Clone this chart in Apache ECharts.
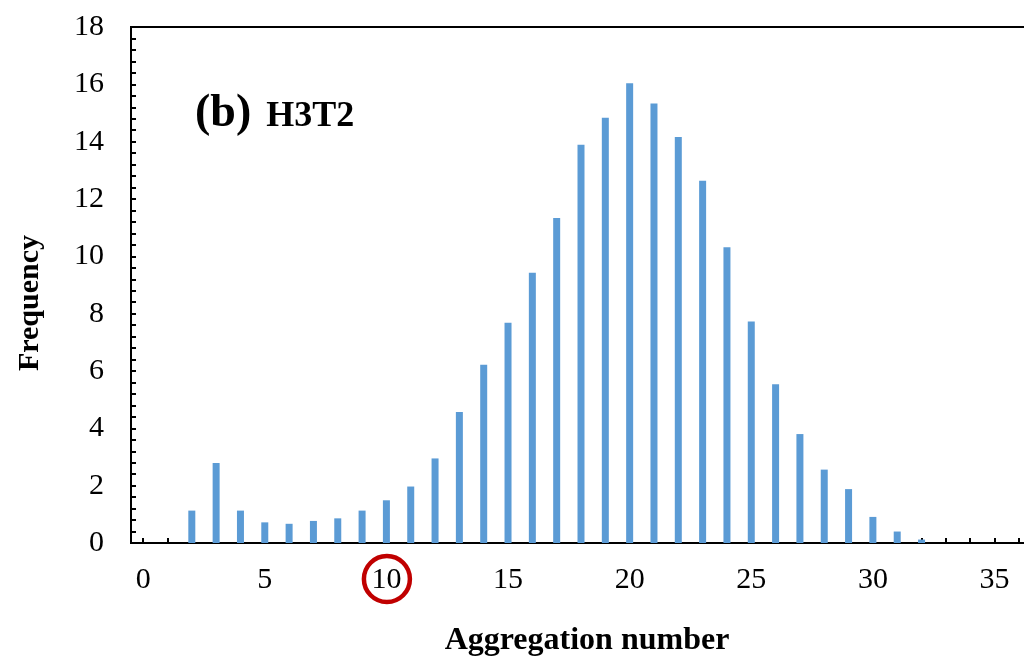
<!DOCTYPE html>
<html>
<head>
<meta charset="utf-8">
<title>H3T2 aggregation number distribution</title>
<script src="https://cdn.jsdelivr.net/npm/echarts@6/dist/echarts.min.js"></script>
<style>
  html, body { margin: 0; padding: 0; background: #fff; }
  #chart { width: 1024px; height: 662px; }
</style>
</head>
<body>
<div id="chart"></div>
<script>
// Aggregation numbers 0..36 (category axis)
const aggregationNumbers = [
  0, 1, 2, 3, 4, 5, 6, 7, 8, 9, 10, 11, 12, 13, 14, 15, 16, 17, 18,
  19, 20, 21, 22, 23, 24, 25, 26, 27, 28, 29, 30, 31, 32, 33, 34, 35, 36
];
// Frequency (%) for each aggregation number
const frequency = [
  0, 0, 1.13, 2.79, 1.13, 0.72, 0.67, 0.77, 0.86, 1.13, 1.49, 1.97, 2.95,
  4.57, 6.22, 7.68, 9.43, 11.34, 13.89, 14.83, 16.04, 15.33, 14.16, 12.64,
  10.32, 7.73, 5.54, 3.80, 2.56, 1.88, 0.91, 0.40, 0.12, 0, 0, 0, 0
];
// Labelled aggregation number that gets a red ring
const highlightedNumber = '10';
const panelTag = '(b)';
const panelName = 'H3T2';
const xTitle = 'Aggregation number';
const yTitle = 'Frequency';

const serif = "'Liberation Serif', 'Times New Roman', serif";

const chart = echarts.init(document.getElementById('chart'));

chart.setOption({
  animation: false,
  backgroundColor: '#ffffff',
  title: {
    text: '{a|' + panelTag + '}{b|' + panelName + '}',
    left: 190,
    top: 82,
    textStyle: {
      fontFamily: serif,
      rich: {
        a: { fontFamily: serif, fontSize: 46, fontWeight: 'bold', color: '#000', verticalAlign: 'bottom', lineHeight: 50 },
        b: { fontFamily: serif, fontSize: 36, fontWeight: 'bold', color: '#000', verticalAlign: 'bottom', lineHeight: 50, padding: [0, 0, 2, 15] }
      }
    }
  },
  grid: {
    show: true,
    left: 131,
    top: 27,
    bottom: 119,
    width: 900,
    borderColor: '#000',
    borderWidth: 2,
    containLabel: false,
    outerBoundsMode: 'none'
  },
  xAxis: {
    type: 'category',
    data: aggregationNumbers.map(String),
    boundaryGap: true,
    axisLine: { show: true, lineStyle: { color: '#000', width: 2 } },
    axisTick: {
      show: true, inside: true, length: 5, alignWithLabel: true, interval: 0,
      lineStyle: { color: '#000', width: 2 }
    },
    axisLabel: {
      interval: function (index) { return index % 5 === 0; },
      margin: 22,
      fontFamily: serif,
      fontSize: 30,
      color: '#000'
    },
    splitLine: { show: false }
  },
  yAxis: {
    type: 'value',
    min: 0,
    max: 18,
    interval: 2,
    axisLine: { show: true, lineStyle: { color: '#000', width: 2 } },
    axisTick: { show: true, inside: true, length: 5, lineStyle: { color: '#000', width: 2 } },
    minorTick: { show: true, splitNumber: 5, length: 5, lineStyle: { color: '#000', width: 2 } },
    axisLabel: { margin: 27, fontFamily: serif, fontSize: 30, color: '#000' },
    splitLine: { show: false },
    minorSplitLine: { show: false }
  },
  series: [{
    type: 'bar',
    data: frequency,
    barWidth: 7,
    itemStyle: { color: '#5B9BD5' }
  }]
});

// Red ring around the highlighted tick label, placed through the axis scale
const ringX = chart.convertToPixel({ xAxisIndex: 0 }, highlightedNumber);
const axisY = chart.convertToPixel({ yAxisIndex: 0 }, 0);
chart.setOption({
  graphic: [
    {
      type: 'circle',
      shape: { cx: ringX + 0.5, cy: axisY + 36, r: 23 },
      style: { fill: 'none', stroke: '#C00000', lineWidth: 4.5 },
      z: 10
    },
    {
      type: 'text',
      x: 587,
      y: axisY + 98,
      style: {
        text: xTitle, fontFamily: serif, fontSize: 32, fontWeight: 'bold',
        fill: '#000', align: 'center', verticalAlign: 'middle'
      }
    },
    {
      type: 'text',
      x: 30,
      y: 303,
      rotation: Math.PI / 2,
      style: {
        text: yTitle, fontFamily: serif, fontSize: 30, fontWeight: 'bold',
        fill: '#000', align: 'center', verticalAlign: 'middle'
      }
    }
  ]
});
</script>
</body>
</html>
